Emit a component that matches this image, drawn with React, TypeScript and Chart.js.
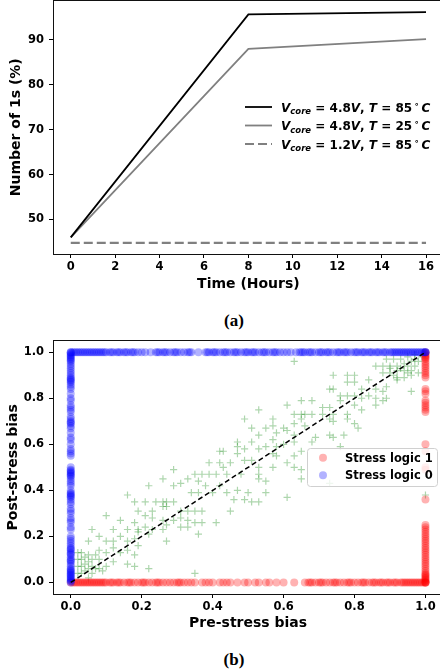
import React, { useEffect, useRef } from 'react';
import { Chart, registerables } from 'chart.js';
Chart.register(...registerables);

const FONT = '"DejaVu Sans", sans-serif';

// ---------- (a) data ----------
const timeHours = [0, 8, 16];
const ones48V85C = [46.0, 95.7, 96.2];
const ones48V25C = [46.0, 88.0, 90.2];
const ones12V85C = [44.8, 44.8, 44.8];
const timeTicks = [0, 2, 4, 6, 8, 10, 12, 14, 16];
const onesTicks = [50, 60, 70, 80, 90];
const legendVcore = ['4.8', '4.8', '1.2'];
const legendTemp = ['85', '25', '85'];

// ---------- (b) data ----------
const biasTicks = [0, 0.2, 0.4, 0.6, 0.8, 1.0];
const stressLabels = ['Stress logic 1', 'Stress logic 0'];
// stress logic 0 (blue): cells ending at post = 1 (their pre-bias values) and cells starting at pre = 0 (their post-bias values)
const logic0TopPre = [
  0, 0.005, 0.01, 0.015, 0.02, 0.025, 0.03, 0.035, 0.04, 0.045, 0.05, 0.055, 0.06, 0.065, 0.07, 0.075, 0.08, 0.085, 0.09, 0.095, 0.1,
  0.11, 0.115, 0.12, 0.13, 0.135, 0.14, 0.15, 0.155, 0.16, 0.17, 0.175, 0.18, 0.19, 0.2, 0.21, 0.225, 0.24, 0.245, 0.25, 0.26,
  0.265, 0.27, 0.28, 0.29, 0.295, 0.3, 0.31, 0.32, 0.33, 0.335, 0.34, 0.36, 0.38, 0.385, 0.39, 0.4, 0.405, 0.41, 0.42, 0.43,
  0.435, 0.44, 0.45, 0.46, 0.465, 0.47, 0.48, 0.49, 0.495, 0.5, 0.51, 0.515, 0.52, 0.53, 0.54, 0.545, 0.55, 0.56, 0.57, 0.575,
  0.58, 0.59, 0.6, 0.61, 0.62, 0.635, 0.645, 0.65, 0.655, 0.66, 0.67, 0.675, 0.68, 0.69, 0.7, 0.705, 0.71, 0.72, 0.725, 0.73,
  0.74, 0.75, 0.755, 0.76, 0.77, 0.775, 0.78, 0.79, 0.8, 0.805, 0.81, 0.82, 0.825, 0.83, 0.84, 0.845, 0.85, 0.86, 0.865, 0.87,
  0.88, 0.885, 0.89, 0.9, 0.905, 0.91, 0.915, 0.92, 0.925, 0.93, 0.935, 0.94, 0.945, 0.95, 0.955, 0.96, 0.965, 0.97, 0.975,
  0.98, 0.985, 0.99, 0.995, 1.0, 1.0, 1.0,
];
const logic0LeftPost = [
  1.0, 0.995, 0.99, 0.985, 0.98, 0.975, 0.97, 0.965, 0.96, 0.95, 0.94, 0.93, 0.92, 0.91, 0.9, 0.89, 0.885, 0.88, 0.875, 0.87,
  0.86, 0.85, 0.84, 0.82, 0.8, 0.79, 0.77, 0.76, 0.75, 0.74, 0.72, 0.71, 0.7, 0.695, 0.69, 0.68, 0.67, 0.65, 0.63, 0.62, 0.6,
  0.58, 0.57, 0.56, 0.55, 0.5, 0.49, 0.485, 0.48, 0.475, 0.47, 0.465, 0.46, 0.45, 0.44, 0.43, 0.42, 0.4, 0.39, 0.385, 0.38,
  0.375, 0.37, 0.36, 0.35, 0.34, 0.32, 0.31, 0.3, 0.28, 0.27, 0.26, 0.24, 0.23, 0.2, 0.19, 0.18, 0.17, 0.16, 0.15, 0.145, 0.14,
  0.13, 0.125, 0.12, 0.11, 0.1, 0.095, 0.09, 0.08, 0.07, 0.06, 0.055, 0.05, 0.045, 0.04, 0.035, 0.03, 0.025, 0.02, 0.015, 0.01,
  0.005, 0,
];
// stress logic 1 (red): cells ending at post = 0 (their pre-bias values) and cells starting at pre = 1 (their post-bias values)
const logic1BottomPre = [
  0, 0.005, 0.01, 0.015, 0.02, 0.025, 0.03, 0.035, 0.04, 0.045, 0.05, 0.055, 0.06, 0.065, 0.07, 0.075, 0.08, 0.085, 0.09, 0.095, 0.1,
  0.11, 0.115, 0.12, 0.13, 0.135, 0.14, 0.15, 0.16, 0.165, 0.17, 0.18, 0.19, 0.2, 0.205, 0.21, 0.22, 0.23, 0.24, 0.245, 0.25,
  0.26, 0.27, 0.28, 0.29, 0.3, 0.305, 0.31, 0.32, 0.33, 0.34, 0.35, 0.37, 0.38, 0.39, 0.4, 0.42, 0.43, 0.44, 0.45, 0.47, 0.49,
  0.5, 0.52, 0.53, 0.55, 0.56, 0.58, 0.6, 0.63, 0.66, 0.67, 0.675, 0.68, 0.69, 0.7, 0.705, 0.71, 0.72, 0.73, 0.74, 0.745, 0.75,
  0.76, 0.77, 0.78, 0.785, 0.79, 0.8, 0.81, 0.82, 0.825, 0.83, 0.84, 0.85, 0.855, 0.86, 0.87, 0.875, 0.88, 0.89, 0.895, 0.9,
  0.91, 0.915, 0.92, 0.93, 0.935, 0.94, 0.945, 0.95, 0.955, 0.96, 0.965, 0.97, 0.975, 0.98, 0.985, 0.99, 0.995, 1.0, 1.0,
];
const logic1RightPost = [
  1.0, 0.995, 0.99, 0.985, 0.98, 0.975, 0.97, 0.96, 0.95, 0.94, 0.93, 0.92, 0.91, 0.9, 0.89, 0.84, 0.83, 0.82, 0.79, 0.78,
  0.77, 0.76, 0.75, 0.74, 0.6, 0.57, 0.5, 0.49, 0.36, 0.25, 0.24, 0.23, 0.22, 0.21, 0.2, 0.19, 0.18, 0.17, 0.16, 0.15, 0.14,
  0.13, 0.12, 0.11, 0.1, 0.09, 0.08, 0.07, 0.06, 0.05, 0.04, 0.035, 0.03, 0.025, 0.02, 0.015, 0.01, 0.005, 0, 0,
];
// unflipped cells (green +): [pre, post]
const unflippedCells: [number, number][] = [
  [0.63, 0.96], [0.74, 0.9], [0.78, 0.9], [0.8, 0.9], [0.73, 0.84], [0.74, 0.84], [0.78, 0.87], [0.8, 0.87],
  [0.82, 0.84], [0.84, 0.88], [0.86, 0.84], [0.88, 0.83], [0.89, 0.85], [0.92, 0.88], [0.76, 0.81], [0.78, 0.81],
  [0.8, 0.81], [0.82, 0.8], [0.84, 0.81], [0.86, 0.8], [0.88, 0.79], [0.89, 0.8], [0.76, 0.79], [0.8, 0.77],
  [0.82, 0.75], [0.86, 0.77], [0.53, 0.75], [0.61, 0.77], [0.65, 0.79], [0.68, 0.79], [0.71, 0.76], [0.73, 0.76],
  [0.49, 0.71], [0.57, 0.71], [0.63, 0.73], [0.65, 0.73], [0.66, 0.73], [0.68, 0.73], [0.71, 0.73], [0.74, 0.73],
  [0.78, 0.73], [0.51, 0.67], [0.55, 0.67], [0.57, 0.68], [0.6, 0.67], [0.63, 0.69], [0.65, 0.71], [0.66, 0.68],
  [0.73, 0.71], [0.74, 0.7], [0.78, 0.71], [0.8, 0.69], [0.53, 0.64], [0.58, 0.65], [0.61, 0.66], [0.63, 0.64],
  [0.69, 0.63], [0.73, 0.64], [0.74, 0.63], [0.77, 0.64], [0.81, 0.67], [0.47, 0.61], [0.51, 0.61], [0.55, 0.59],
  [0.57, 0.62], [0.58, 0.59], [0.6, 0.6], [0.63, 0.61], [0.65, 0.57], [0.68, 0.61], [0.47, 0.59], [0.49, 0.58],
  [0.53, 0.58], [0.57, 0.56], [0.58, 0.55], [0.61, 0.52], [0.63, 0.55], [0.76, 0.59], [0.42, 0.57], [0.43, 0.57],
  [0.47, 0.56], [0.49, 0.53], [0.51, 0.53], [0.39, 0.52], [0.42, 0.52], [0.43, 0.5], [0.45, 0.52], [0.53, 0.5],
  [0.57, 0.5], [0.63, 0.5], [0.65, 0.49], [0.35, 0.47], [0.37, 0.47], [0.39, 0.47], [0.41, 0.47], [0.44, 0.47],
  [0.48, 0.47], [0.53, 0.47], [0.29, 0.49], [0.33, 0.45], [0.36, 0.44], [0.53, 0.45], [0.55, 0.44], [0.65, 0.45],
  [0.73, 0.43], [0.26, 0.45], [0.22, 0.42], [0.29, 0.42], [0.31, 0.43], [0.38, 0.42], [0.42, 0.42], [0.44, 0.39],
  [0.47, 0.4], [0.5, 0.39], [0.16, 0.38], [0.18, 0.35], [0.21, 0.35], [0.24, 0.35], [0.26, 0.35], [0.27, 0.35],
  [0.29, 0.35], [0.34, 0.39], [0.36, 0.39], [0.4, 0.39], [0.46, 0.36], [0.49, 0.36], [0.51, 0.35], [0.53, 0.35],
  [0.55, 0.39], [0.61, 0.37], [0.19, 0.31], [0.23, 0.31], [0.26, 0.33], [0.27, 0.33], [0.31, 0.31], [0.33, 0.31],
  [0.35, 0.31], [0.37, 0.31], [0.45, 0.31], [0.1, 0.29], [0.14, 0.27], [0.18, 0.26], [0.21, 0.29], [0.23, 0.28],
  [0.26, 0.27], [0.29, 0.27], [0.31, 0.28], [0.33, 0.27], [0.35, 0.26], [0.37, 0.26], [0.41, 0.26], [0.06, 0.23],
  [0.12, 0.23], [0.16, 0.23], [0.19, 0.23], [0.21, 0.24], [0.23, 0.23], [0.26, 0.23], [0.27, 0.25], [0.31, 0.24],
  [0.33, 0.24], [0.36, 0.21], [0.05, 0.18], [0.08, 0.2], [0.1, 0.18], [0.12, 0.18], [0.14, 0.2], [0.16, 0.18],
  [0.18, 0.19], [0.19, 0.22], [0.22, 0.21], [0.27, 0.18], [0.02, 0.13], [0.03, 0.13], [0.05, 0.12], [0.08, 0.14],
  [0.1, 0.13], [0.12, 0.15], [0.14, 0.13], [0.16, 0.14], [0.18, 0.12], [0.19, 0.16], [0.02, 0.1], [0.03, 0.1],
  [0.05, 0.09], [0.08, 0.1], [0.12, 0.09], [0.16, 0.08], [0.18, 0.07], [0.22, 0.06], [0.35, 0.04], [0.02, 0.07],
  [0.03, 0.07], [0.05, 0.06], [0.07, 0.06], [0.09, 0.05], [0.1, 0.07], [0.02, 0.04], [0.03, 0.04], [0.05, 0.02],
  [0.04, 0.11], [0.06, 0.1], [0.04, 0.08], [0.06, 0.07], [0.04, 0.05], [0.06, 0.04], [0.08, 0.06], [0.07, 0.12],
  [0.86, 0.94], [0.88, 0.94], [0.9, 0.94], [0.92, 0.94], [0.94, 0.95], [0.96, 0.96], [0.97, 0.97], [0.99, 0.98],
  [0.88, 0.91], [0.9, 0.91], [0.92, 0.92], [0.94, 0.92], [0.96, 0.92], [0.97, 0.94], [0.92, 0.89], [0.94, 0.89],
  [0.96, 0.9], [0.98, 0.91], [0.96, 0.83], [0.89, 0.97], [0.91, 0.97], [0.93, 0.97], [0.95, 0.98], [0.97, 0.99],
  [0.9, 0.93], [0.93, 0.93], [0.95, 0.94], [0.98, 0.96], [0.91, 0.9], [0.95, 0.91],
  [1.0, 0.38],
];
const identityLine = [0, 1];

// ---------- helpers ----------
const tickFont = { family: FONT, size: 11.5, weight: 'bold' as const };
const titleFont = { family: FONT, size: 14, weight: 'bold' as const };

function fixBox(size: number, horizontal: boolean) {
  return (s: any) => {
    if (horizontal) s.height = size;
    else s.width = size;
    s.paddingTop = 0;
    s.paddingBottom = 0;
    s.paddingLeft = 0;
    s.paddingRight = 0;
  };
}

function setTicks(values: number[]) {
  return (s: any) => {
    s.ticks = values.map((v) => ({ value: v }));
  };
}

const frame = {
  id: 'frame',
  afterDatasetsDraw(chart: any) {
    const { ctx, chartArea: a } = chart;
    ctx.save();
    ctx.strokeStyle = '#111';
    ctx.lineWidth = 1;
    const l = Math.floor(a.left) + 0.5;
    const t = Math.floor(a.top) + 0.5;
    const r = Math.floor(a.right) + 0.5;
    const b = Math.floor(a.bottom) + 0.5;
    ctx.strokeRect(l, t, r - l, b - t);
    ctx.restore();
  },
};

type Part = { t: string; italic?: boolean; size?: number; dy?: number; gap?: number };
function drawRich(ctx: CanvasRenderingContext2D, x: number, y: number, parts: Part[]) {
  for (const p of parts) {
    const size = p.size || 12;
    ctx.font = `${p.italic ? 'italic ' : ''}bold ${size}px ${FONT}`;
    x += p.gap || 0;
    ctx.fillText(p.t, x, y + (p.dy || 0));
    x += ctx.measureText(p.t).width;
  }
}

function vcoreParts(v: string, t: string): Part[] {
  return [
    { t: 'V', italic: true },
    { t: 'core', italic: true, size: 8.5, dy: 2.5 },
    { t: ' = ' },
    { t: v },
    { t: 'V', italic: true },
    { t: ', ' },
    { t: 'T', italic: true },
    { t: ' = ' },
    { t: t },
    { t: '\u2218', size: 8.5, dy: -5, gap: 2 },
    { t: 'C', italic: true, gap: 2 },
  ];
}

const topLegend = {
  id: 'topLegend',
  afterDraw(chart: any) {
    const ctx: CanvasRenderingContext2D = chart.ctx;
    ctx.save();
    chart.data.datasets.forEach((ds: any, i: number) => {
      const yLine = 107 + i * 18.5;
      ctx.strokeStyle = ds.borderColor;
      ctx.lineWidth = ds.borderWidth;
      ctx.setLineDash(ds.borderDash || []);
      ctx.beginPath();
      ctx.moveTo(245, yLine);
      ctx.lineTo(272, yLine);
      ctx.stroke();
      ctx.setLineDash([]);
      ctx.fillStyle = '#000';
      ctx.textBaseline = 'alphabetic';
      drawRich(ctx, 281, yLine + 4.5, vcoreParts(legendVcore[i], legendTemp[i]));
    });
    ctx.restore();
  },
};

const bottomLegend = {
  id: 'bottomLegend',
  afterDraw(chart: any) {
    const ctx: CanvasRenderingContext2D = chart.ctx;
    ctx.save();
    const x0 = 307.5, y0 = 118.5, w = 130, h = 38, r = 3;
    ctx.beginPath();
    ctx.moveTo(x0 + r, y0);
    ctx.arcTo(x0 + w, y0, x0 + w, y0 + h, r);
    ctx.arcTo(x0 + w, y0 + h, x0, y0 + h, r);
    ctx.arcTo(x0, y0 + h, x0, y0, r);
    ctx.arcTo(x0, y0, x0 + w, y0, r);
    ctx.closePath();
    ctx.fillStyle = 'rgba(255,255,255,0.8)';
    ctx.fill();
    ctx.strokeStyle = '#d0d0d0';
    ctx.lineWidth = 1;
    ctx.stroke();
    const colors = [chart.data.datasets[2].backgroundColor, chart.data.datasets[1].backgroundColor];
    stressLabels.forEach((lab, i) => {
      const cy = 127.7 + i * 17.5;
      ctx.fillStyle = colors[i];
      ctx.beginPath();
      ctx.arc(323, cy, 4, 0, Math.PI * 2);
      ctx.fill();
      ctx.fillStyle = '#000';
      ctx.font = `bold 11.5px ${FONT}`;
      ctx.textBaseline = 'alphabetic';
      ctx.fillText(lab, 345, cy + 4.2);
    });
    ctx.restore();
  },
};

function topConfig(): any {
  const mk = (ys: number[]) => timeHours.map((x, i) => ({ x, y: ys[i] }));
  return {
    type: 'line',
    data: {
      datasets: [
        { data: mk(ones48V85C), borderColor: '#000000', borderWidth: 1.8, pointRadius: 0, fill: false, tension: 0 },
        { data: mk(ones48V25C), borderColor: '#808080', borderWidth: 1.8, pointRadius: 0, fill: false, tension: 0 },
        { data: mk(ones12V85C), borderColor: '#808080', borderWidth: 2.2, borderDash: [9, 4], pointRadius: 0, fill: false, tension: 0 },
      ],
    },
    options: {
      responsive: false,
      animation: false,
      events: [],
      layout: { padding: { left: 0, top: 0.5, right: 16.2, bottom: 0 } },
      plugins: { legend: { display: false }, tooltip: { enabled: false } },
      scales: {
        x: {
          type: 'linear',
          min: -0.8,
          max: 16.8,
          afterBuildTicks: setTicks(timeTicks),
          afterFit: fixBox(46, true),
          grid: { drawOnChartArea: false, drawTicks: true, tickLength: 4, tickColor: '#000' },
          border: { display: false },
          ticks: { font: tickFont, color: '#000', padding: 2.5, maxRotation: 0, autoSkip: false },
          title: { display: true, text: 'Time (Hours)', font: titleFont, color: '#000', padding: { top: 0, bottom: 7.4 } },
        },
        y: {
          type: 'linear',
          min: 42.3,
          max: 98.8,
          afterBuildTicks: setTicks(onesTicks),
          afterFit: fixBox(53, false),
          grid: { drawOnChartArea: false, drawTicks: true, tickLength: 4, tickColor: '#000' },
          border: { display: false },
          ticks: { font: tickFont, color: '#000', padding: 5 },
          title: { display: true, text: 'Number of 1s (%)', font: titleFont, color: '#000', padding: { top: 7.5, bottom: 0 } },
        },
      },
    },
    plugins: [frame, topLegend],
  };
}

function bottomConfig(): any {
  const blue = [
    ...logic0TopPre.map((x) => ({ x, y: 1 })),
    ...logic0LeftPost.map((y) => ({ x: 0, y })),
  ];
  const red = [
    ...logic1BottomPre.map((x) => ({ x, y: 0 })),
    ...logic1RightPost.map((y) => ({ x: 1, y })),
  ];
  const green = unflippedCells.map(([x, y]) => ({ x, y }));
  return {
    type: 'scatter',
    data: {
      datasets: [
        {
          data: identityLine.map((v) => ({ x: v, y: v })),
          showLine: true,
          borderColor: '#000',
          borderWidth: 1.5,
          borderDash: [5, 3],
          pointRadius: 0,
        },
        { data: blue, backgroundColor: 'rgba(0,0,255,0.3)', borderWidth: 0, pointRadius: 4 },
        { data: red, backgroundColor: 'rgba(255,0,0,0.3)', borderWidth: 0, pointRadius: 4 },
        { data: green, pointStyle: 'cross', borderColor: 'rgba(0,128,0,0.32)', backgroundColor: 'rgba(0,128,0,0.32)', borderWidth: 1.2, pointRadius: 3.6 },
      ],
    },
    options: {
      responsive: false,
      animation: false,
      events: [],
      layout: { padding: { left: 0, top: 10.7, right: 16.8, bottom: 0 } },
      plugins: { legend: { display: false }, tooltip: { enabled: false } },
      scales: {
        x: {
          type: 'linear',
          min: -0.05,
          max: 1.05,
          afterBuildTicks: setTicks(biasTicks),
          afterFit: fixBox(46, true),
          grid: { drawOnChartArea: false, drawTicks: true, tickLength: 4, tickColor: '#000' },
          border: { display: false },
          ticks: { font: tickFont, color: '#000', padding: 2, maxRotation: 0, autoSkip: false, callback: (v: number) => v.toFixed(1) },
          title: { display: true, text: 'Pre-stress bias', font: titleFont, color: '#000', padding: { top: 0, bottom: 8.1 } },
        },
        y: {
          type: 'linear',
          min: -0.05,
          max: 1.05,
          afterBuildTicks: setTicks(biasTicks),
          afterFit: fixBox(53, false),
          grid: { drawOnChartArea: false, drawTicks: true, tickLength: 4, tickColor: '#000' },
          border: { display: false },
          ticks: { font: tickFont, color: '#000', padding: 5, callback: (v: number) => v.toFixed(1) },
          title: { display: true, text: 'Post-stress bias', font: titleFont, color: '#000', padding: { top: 4.8, bottom: 0 } },
        },
      },
    },
    plugins: [frame, bottomLegend],
  };
}

const captionStyle: React.CSSProperties = {
  position: 'absolute',
  left: 184,
  width: 100,
  textAlign: 'center',
  fontFamily: '"Liberation Serif", "Times New Roman", serif',
  fontWeight: 'bold',
  fontSize: 17,
  lineHeight: '17px',
  color: '#000',
};

export default function App() {
  const topRef = useRef<HTMLCanvasElement>(null);
  const botRef = useRef<HTMLCanvasElement>(null);
  useEffect(() => {
    document.body.style.margin = '0';
    const c1 = new Chart(topRef.current as HTMLCanvasElement, topConfig());
    const c2 = new Chart(botRef.current as HTMLCanvasElement, bottomConfig());
    return () => {
      c1.destroy();
      c2.destroy();
    };
  }, []);
  return (
    <div style={{ position: 'relative', width: 440, height: 672, overflow: 'hidden', background: '#fff' }}>
      <canvas ref={topRef} width={460} height={300} style={{ position: 'absolute', left: 0, top: 0, width: 460, height: 300 }} />
      <div style={{ ...captionStyle, top: 311.6 }}>(a)</div>
      <canvas ref={botRef} width={460} height={310} style={{ position: 'absolute', left: 0, top: 330, width: 460, height: 310 }} />
      <div style={{ ...captionStyle, top: 650.8 }}>(b)</div>
    </div>
  );
}
